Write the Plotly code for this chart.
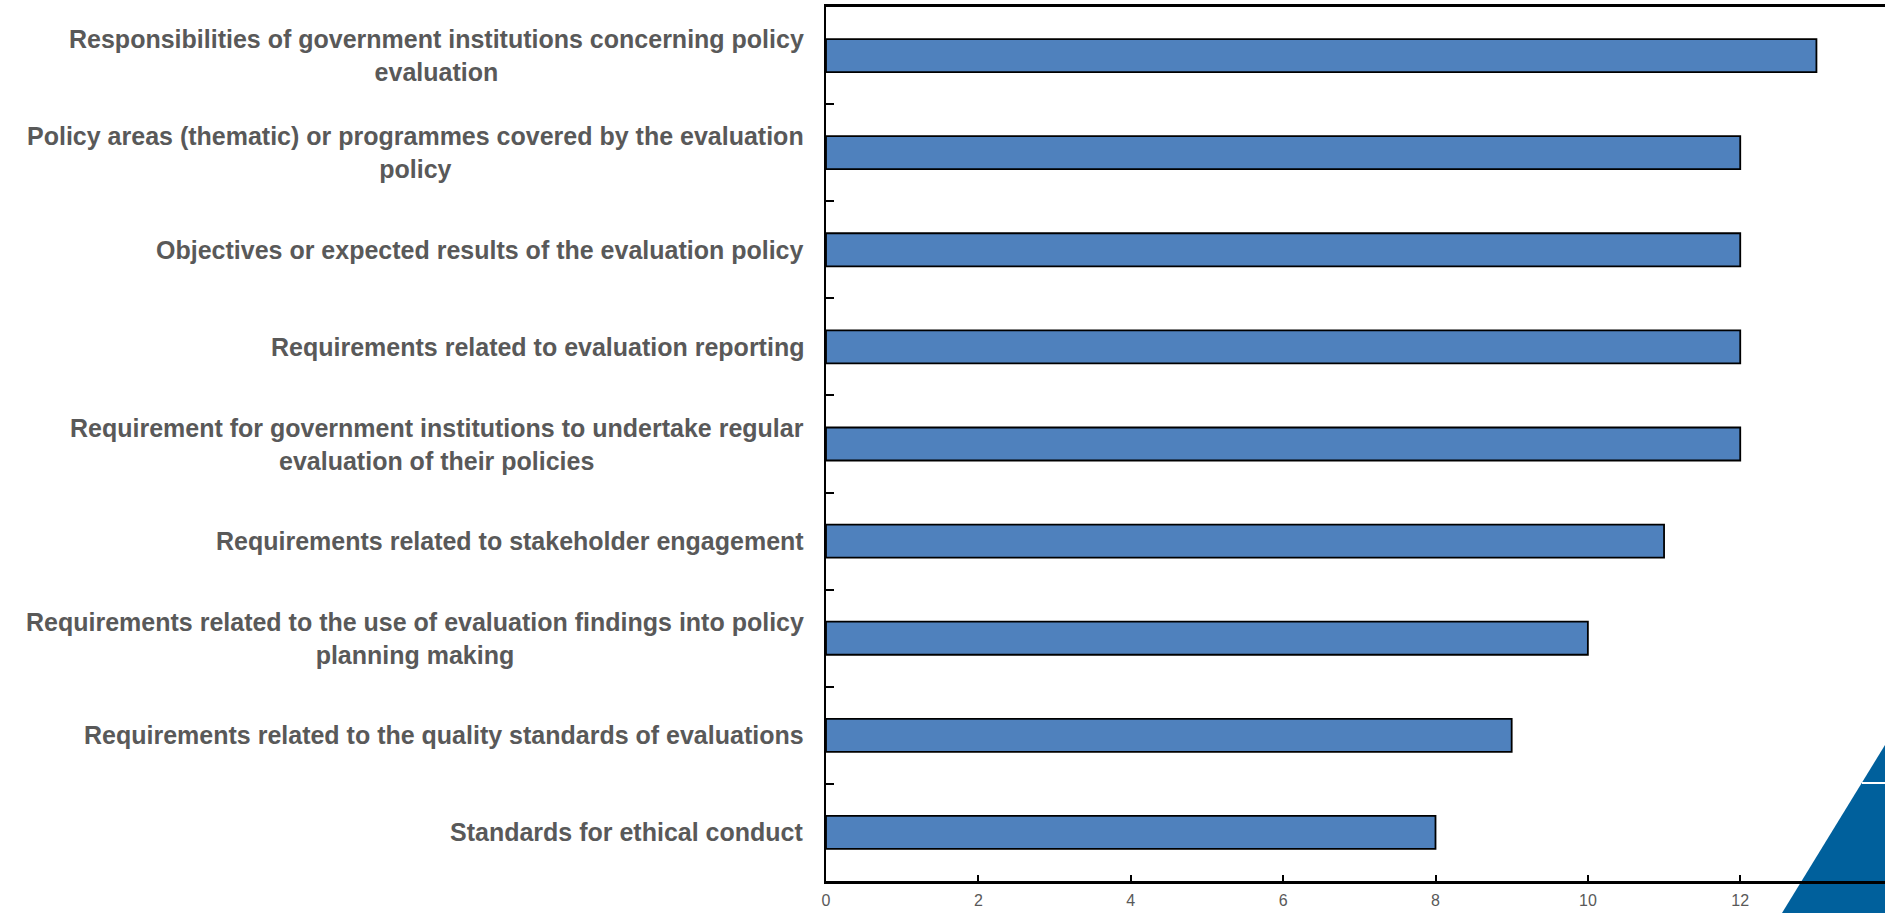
import plotly.graph_objects as go

categories = [
    "Responsibilities of government institutions concerning policy<br>evaluation",
    "Policy areas (thematic) or programmes covered by the evaluation<br>policy",
    "Objectives or expected results of the evaluation policy",
    "Requirements related to evaluation reporting",
    "Requirement for government institutions to undertake regular<br>evaluation of their policies",
    "Requirements related to stakeholder engagement",
    "Requirements related to the use of evaluation findings into policy<br>planning making",
    "Requirements related to the quality standards of evaluations",
    "Standards for ethical conduct",
]
values = [13, 12, 12, 12, 12, 11, 10, 9, 8]
x_ticks = [0, 2, 4, 6, 8, 10, 12]

FONT = "Liberation Sans, Arial, sans-serif"
GRAY = "#595959"

W, H = 1885, 913
ML, MR, MT, MB = 826, 0, 7, 32

fig = go.Figure()
fig.add_trace(go.Bar(
    x=values, y=categories, orientation="h", width=0.34,
    marker=dict(color="#4F81BD", line=dict(color="black", width=1.8)),
    showlegend=False, hoverinfo="skip",
))

for c in categories:
    fig.add_annotation(
        x=0, xref="paper", y=c, yref="y", text="<b>" + c + "</b>",
        showarrow=False, xanchor="right", yanchor="middle", align="center",
        xshift=-20, font=dict(family=FONT, size=25, color=GRAY),
    )

# decorative corner triangle (pixel coords converted to paper)
pw = W - ML - MR
ph = H - MT - MB
def px(x):
    return (x - ML) / pw
def py(y):
    return (H - MB - y) / ph
fig.add_shape(type="path", xref="paper", yref="paper",
              path=f"M {px(1782)} {py(913)} L {px(1885)} {py(745)} L {px(1895)} {py(745)} L {px(1895)} {py(913)} Z",
              fillcolor="#00609C", line=dict(width=0), layer="below")
fig.add_shape(type="line", xref="paper", yref="paper",
              x0=px(1862), y0=py(783), x1=px(1895), y1=py(783),
              line=dict(color="white", width=2), layer="below")

fig.update_layout(
    width=W, height=H,
    margin=dict(l=ML, r=MR, t=MT, b=MB, autoexpand=False),
    plot_bgcolor="rgba(0,0,0,0)", paper_bgcolor="white",
)
fig.update_xaxes(
    range=[0, 13.9], tickvals=x_ticks, ticks="inside", ticklen=6, tickwidth=1.5,
    tickcolor="black", showline=True, linecolor="black", linewidth=2.5, mirror=True,
    showgrid=False, zeroline=False, ticklabelstandoff=3,
    tickfont=dict(family=FONT, size=16, color=GRAY),
)
fig.update_yaxes(
    autorange="reversed", showticklabels=False, ticks="inside", tickson="boundaries",
    ticklen=8, tickwidth=1.5, tickcolor="black", showline=True, linecolor="black",
    linewidth=2, showgrid=False, zeroline=False,
)

fig.write_html("out.html", config={"displayModeBar": False},
               post_script="document.body.style.margin='0';document.body.style.overflow='hidden';")
